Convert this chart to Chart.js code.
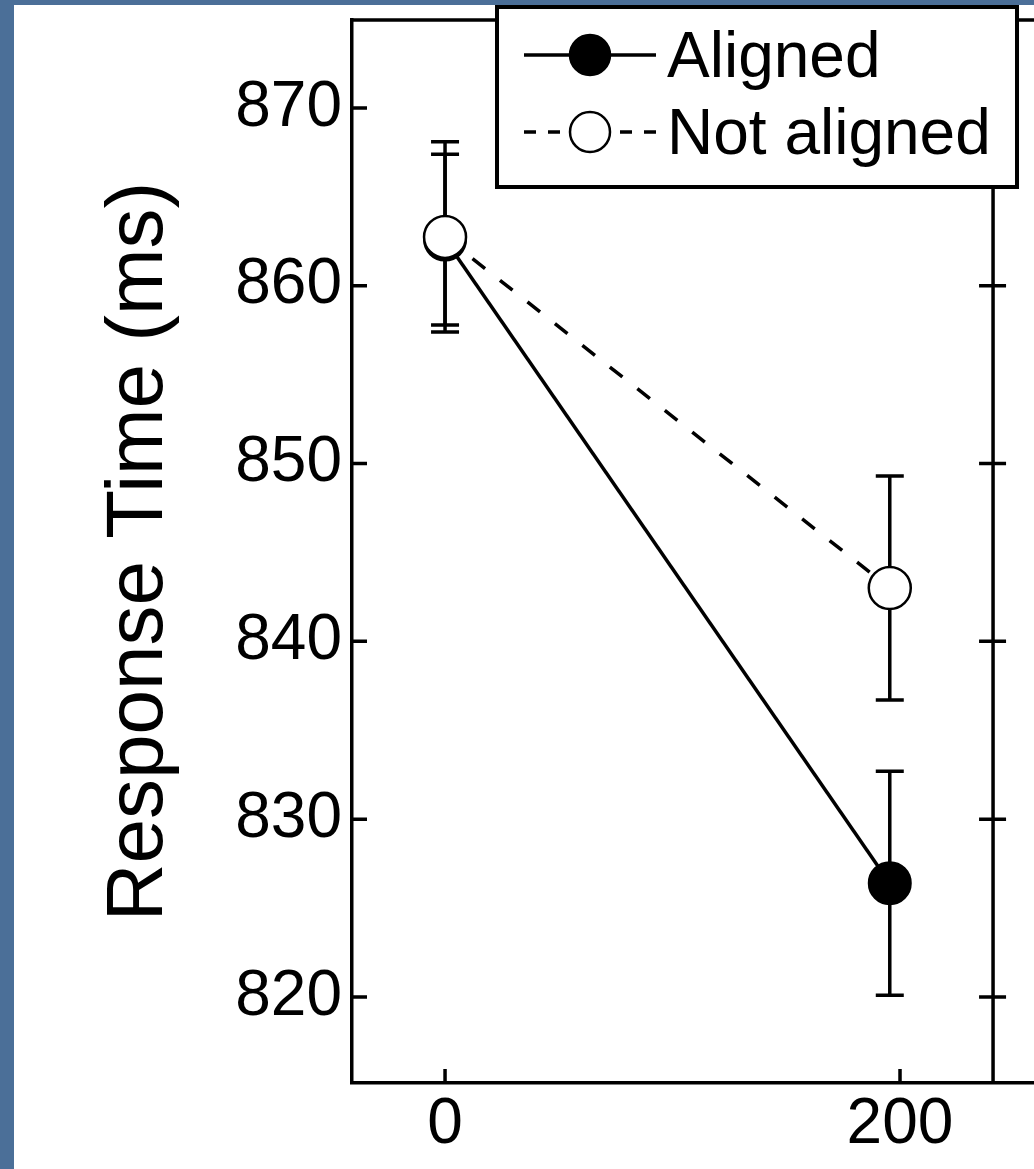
<!DOCTYPE html>
<html>
<head>
<meta charset="utf-8">
<script src="https://cdn.jsdelivr.net/npm/chart.js@4.4.1/dist/chart.umd.min.js"></script>
<style>
  html, body { margin: 0; padding: 0; }
  body { width: 1034px; height: 1169px; background: #4b6f98; overflow: hidden; position: relative; }
  #panel { position: absolute; left: 14px; top: 5px; width: 1020px; height: 1164px; background: #fff; }
  canvas { display: block; }
</style>
</head>
<body>
<div id="panel"><canvas id="chart" width="1020" height="1164"></canvas></div>
<script>
'use strict';

// values
const xValues = [0, 195.5];
const xTicks = [0, 200];
const yTicks = [820, 830, 840, 850, 860, 870];
const seriesLabels = ['Aligned', 'Not aligned'];
const alignedMeans = [862.6, 826.4];
const alignedErrors = [4.8, 6.3];
const notAlignedMeans = [862.75, 843.0];
const notAlignedErrors = [5.35, 6.3];

const FONT = "'Liberation Sans', Arial, Helvetica, sans-serif";
const nextPanelX = 240.9;   // axis of the neighbouring panel, cut off on the right

function toPoints(means) {
  return xValues.map((x, i) => ({ x: x, y: means[i] }));
}

// drop the label overhang padding so the plot box fills the panel
function noPadding(scale) {
  scale.paddingTop = 0;
  scale.paddingBottom = 0;
  scale.paddingLeft = 0;
  scale.paddingRight = 0;
}

let errorBars = {
  id: 'errorBars',
  beforeDatasetsDraw(chart) {
    let { ctx, scales: { x, y } } = chart;
    ctx.save();
    ctx.strokeStyle = '#000';
    ctx.lineWidth = 3.5;
    chart.data.datasets.forEach(ds => {
      ds.data.forEach((p, i) => {
        let px = x.getPixelForValue(p.x);
        let top = y.getPixelForValue(p.y + ds.errors[i]);
        let bot = y.getPixelForValue(p.y - ds.errors[i]);
        ctx.beginPath();
        ctx.moveTo(px, top); ctx.lineTo(px, bot);
        ctx.moveTo(px - 14, top); ctx.lineTo(px + 14, top);
        ctx.moveTo(px - 14, bot); ctx.lineTo(px + 14, bot);
        ctx.stroke();
      });
    });
    ctx.restore();
  }
};

let frame = {
  id: 'frame',
  afterDraw(chart) {
    let { ctx, chartArea: area, scales: { x, y } } = chart;
    ctx.save();
    ctx.strokeStyle = '#000';
    ctx.lineWidth = 3.5;

    // top edge of the box
    ctx.beginPath();
    ctx.moveTo(area.left - 1.5, area.top);
    ctx.lineTo(area.right, area.top);
    ctx.stroke();

    // inward ticks
    ctx.beginPath();
    yTicks.forEach(v => {
      let py = y.getPixelForValue(v);
      ctx.moveTo(area.left, py);
      ctx.lineTo(area.left + 15, py);
    });
    xTicks.forEach(v => {
      let px = x.getPixelForValue(v);
      ctx.moveTo(px, area.bottom);
      ctx.lineTo(px, area.bottom - 14);
    });
    ctx.stroke();

    // next panel's axis with crossing ticks
    let nx = x.getPixelForValue(nextPanelX);
    ctx.beginPath();
    ctx.moveTo(nx, area.top);
    ctx.lineTo(nx, area.bottom);
    yTicks.forEach(v => {
      let py = y.getPixelForValue(v);
      ctx.moveTo(nx - 14, py);
      ctx.lineTo(nx + 13, py);
    });
    ctx.stroke();

    // legend box
    let box = { left: 483, top: 2, right: 1003, bottom: 182 };
    ctx.fillStyle = '#fff';
    ctx.fillRect(box.left, box.top, box.right - box.left, box.bottom - box.top);
    ctx.lineWidth = 4;
    ctx.strokeRect(box.left, box.top, box.right - box.left, box.bottom - box.top);

    let rows = [50, 127];
    chart.data.datasets.forEach((ds, i) => {
      let ry = rows[i];
      ctx.lineWidth = 3.5;
      ctx.setLineDash(ds.borderDash ? [12, 12] : []);
      ctx.beginPath();
      ctx.moveTo(510, ry);
      ctx.lineTo(642, ry);
      ctx.stroke();
      ctx.setLineDash([]);
      ctx.beginPath();
      ctx.arc(576, ry, 20, 0, Math.PI * 2);
      ctx.fillStyle = ds.pointBackgroundColor;
      ctx.fill();
      ctx.lineWidth = 2.5;
      ctx.stroke();
      ctx.fillStyle = '#000';
      ctx.font = '64px ' + FONT;
      ctx.textBaseline = 'middle';
      ctx.textAlign = 'left';
      ctx.fillText(ds.label, 653, ry + 4);
    });
    ctx.restore();
  }
};

let data = {
  datasets: [{
    label: seriesLabels[0],
    data: toPoints(alignedMeans),
    errors: alignedErrors,
    borderColor: '#000',
    borderWidth: 3.5,
    pointRadius: 21,
    pointHoverRadius: 21,
    pointBackgroundColor: '#000',
    pointBorderColor: '#000',
    pointBorderWidth: 2,
    order: 2
  }, {
    label: seriesLabels[1],
    data: toPoints(notAlignedMeans),
    errors: notAlignedErrors,
    borderColor: '#000',
    borderWidth: 3.5,
    borderDash: [16, 19],
    pointRadius: 21,
    pointHoverRadius: 21,
    pointBackgroundColor: '#fff',
    pointBorderColor: '#000',
    pointBorderWidth: 2.5,
    order: 1
  }]
};

let config = {
  type: 'line',
  data: data,
  options: {
    responsive: false,
    animation: false,
    devicePixelRatio: 1,
    events: [],
    layout: { autoPadding: false, padding: { top: 15, right: 0, bottom: 0, left: 0 } },
    plugins: {
      legend: { display: false },
      tooltip: { enabled: false }
    },
    scales: {
      x: {
        type: 'linear',
        min: -40.9,
        max: 258.9,
        afterBuildTicks: scale => { scale.ticks = xTicks.map(v => ({ value: v })); },
        afterFit: scale => { scale.height = 86; noPadding(scale); },
        grid: { display: false, drawTicks: false },
        border: { display: true, color: '#000', width: 3.5 },
        ticks: {
          color: '#000',
          font: { family: FONT, size: 64 },
          padding: 4,
          maxRotation: 0
        }
      },
      y: {
        type: 'linear',
        min: 815.16,
        max: 874.95,
        afterBuildTicks: scale => { scale.ticks = yTicks.map(v => ({ value: v })); },
        afterFit: scale => { scale.width = 338; noPadding(scale); },
        grid: { display: false, drawTicks: false },
        border: { display: true, color: '#000', width: 3.5 },
        ticks: {
          color: '#000',
          font: { family: FONT, size: 64 },
          padding: 10
        },
        title: {
          display: true,
          text: 'Response Time (ms)',
          color: '#000',
          font: { family: FONT, size: 80, lineHeight: 1 },
          padding: { top: 86, bottom: 0 }
        }
      }
    }
  },
  plugins: [errorBars, frame]
};

let canvasElem = document.getElementById('chart');
new Chart(canvasElem, config);
</script>
</body>
</html>
